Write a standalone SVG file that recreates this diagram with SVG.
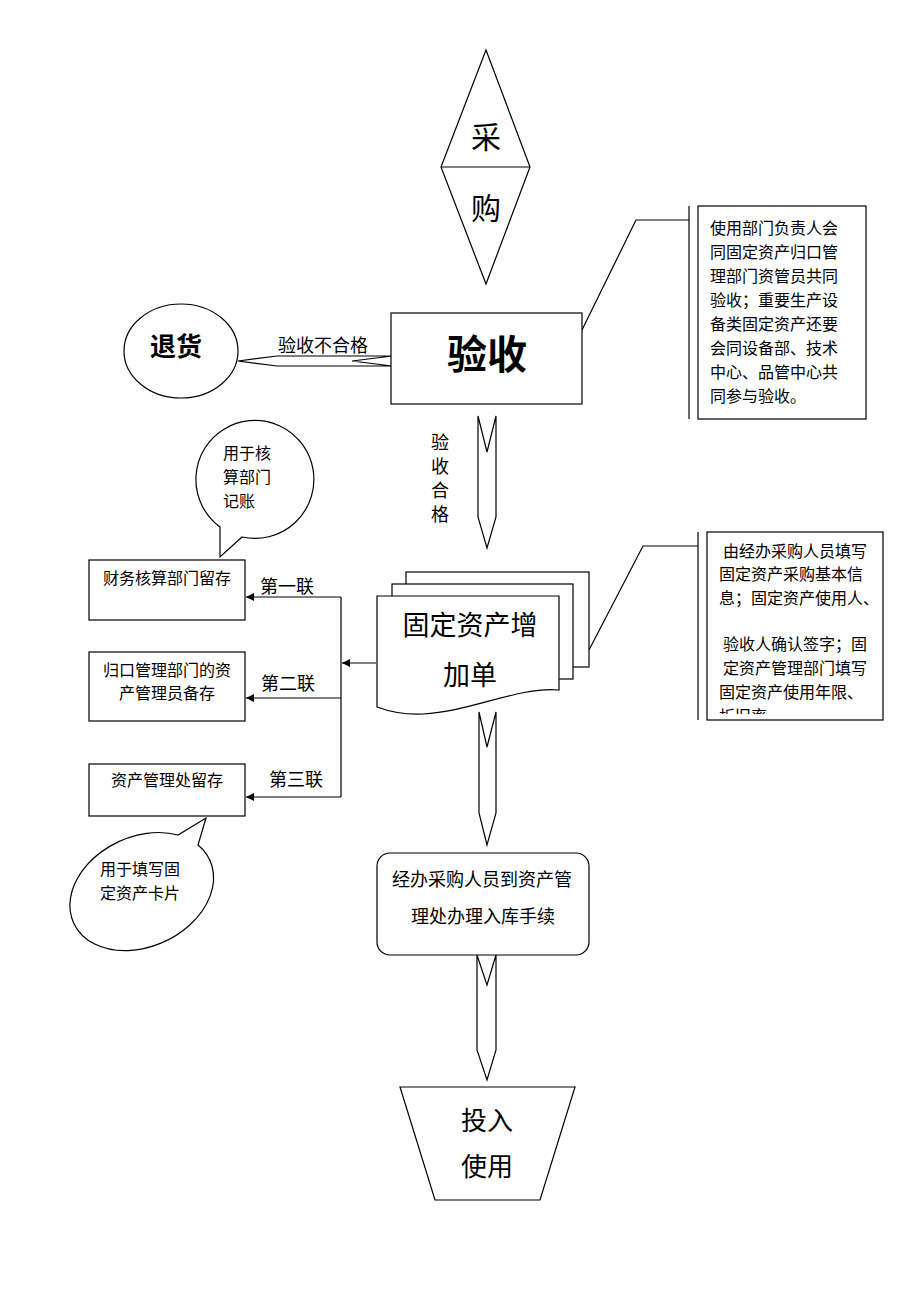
<svg xmlns="http://www.w3.org/2000/svg" width="920" height="1302" viewBox="0 0 920 1302">
<style>
.s{fill:#fff;stroke:#000;stroke-width:1.2}
.l{fill:none;stroke:#000;stroke-width:1.2}
text{font-family:"Noto Sans CJK SC","Noto Sans",sans-serif;fill:#000}
.c{text-anchor:middle}
.t16{font-size:16px}
.t18{font-size:18px}
</style>
<defs>
<marker id="ah" viewBox="0 0 10 10" refX="10" refY="5" markerWidth="10" markerHeight="8" markerUnits="userSpaceOnUse" orient="auto">
<path d="M0,0 L10,5 L0,10 Z" fill="#000"/>
</marker>
<clipPath id="cp2"><rect x="707" y="532" width="176" height="182"/></clipPath>
</defs>
<rect width="920" height="1302" fill="#fff"/>

<g id="connectors">
<polygon class="s" points="392,356 352,361 392,366 277,366 238,361 277,356"/>
<text class="c t18" x="323" y="352">验收不合格</text>
<polygon class="s" points="478,416 487,452 496,416 496,517 487,548 478,517"/>
<text class="c t18" x="440" y="449">验</text>
<text class="c t18" x="440" y="473">收</text>
<text class="c t18" x="440" y="497">合</text>
<text class="c t18" x="440" y="521">格</text>
<polygon class="s" points="479,712 487,747 496,712 496,813 487,845 479,813"/>
<polygon class="s" points="477,955 487,985 496,955 496,1050 487,1080 477,1050"/>
<polyline class="l" points="582,330 636,220 689,220"/>
<polyline class="l" points="589,650 643,546 698,546"/>
<line class="l" x1="376" y1="663" x2="342" y2="663" marker-end="url(#ah)"/>
<line class="l" x1="341" y1="597" x2="341" y2="797"/>
<line class="l" x1="341" y1="597" x2="246" y2="597" marker-end="url(#ah)"/>
<line class="l" x1="341" y1="698" x2="246" y2="698" marker-end="url(#ah)"/>
<line class="l" x1="341" y1="797" x2="246" y2="797" marker-end="url(#ah)"/>
<text class="c t18" x="287" y="593">第一联</text>
<text class="c t18" x="288" y="690">第二联</text>
<text class="c t18" x="296" y="786">第三联</text>
</g>

<g id="caigou">
<polygon class="s" points="486,50 530,167 486,284 441,167"/>
<line class="l" x1="441" y1="167" x2="530" y2="167"/>
<text class="c" x="486" y="148" font-size="30">采</text>
<text class="c" x="486" y="219" font-size="30">购</text>
</g>

<g id="yanshou">
<rect class="s" x="391" y="313" width="191" height="91"/>
<text class="c" x="487" y="369" font-size="40" font-weight="bold">验收</text>
</g>

<g id="tuihuo">
<ellipse class="s" cx="181" cy="351" rx="57" ry="47"/>
<text class="c" x="176" y="356" font-size="26" font-weight="bold">退货</text>
</g>

<g id="note1">
<line class="l" x1="689" y1="206" x2="689" y2="419"/>
<rect class="s" x="698" y="206" width="168" height="213"/>
<text class="t16" x="710" y="234">使用部门负责人会</text>
<text class="t16" x="710" y="258">同固定资产归口管</text>
<text class="t16" x="710" y="282">理部门资管员共同</text>
<text class="t16" x="710" y="306">验收；重要生产设</text>
<text class="t16" x="710" y="330">备类固定资产还要</text>
<text class="t16" x="710" y="354">会同设备部、技术</text>
<text class="t16" x="710" y="378">中心、品管中心共</text>
<text class="t16" x="710" y="402">同参与验收。</text>
</g>

<g id="bubble1">
<path class="s" d="M242,537 A59,59 0 1 0 220,527 L220,557 Z"/>
<text class="t16" x="223" y="459">用于核</text>
<text class="t16" x="223" y="483">算部门</text>
<text class="t16" x="223" y="507">记账</text>
</g>

<g id="box1">
<rect class="s" x="89" y="560" width="156" height="60"/>
<text class="c t16" x="167" y="584">财务核算部门留存</text>
</g>

<g id="box2">
<rect class="s" x="89" y="652" width="156" height="69"/>
<text class="c t16" x="167" y="676">归口管理部门的资</text>
<text class="c t16" x="167" y="699">产管理员备存</text>
</g>

<g id="box3">
<rect class="s" x="89" y="764" width="156" height="52"/>
<text class="c t16" x="167" y="786">资产管理处留存</text>
</g>

<g id="bubble2">
<path class="s" d="M198,845 A75,55 -25 1 1 178,835 L206,818 Z"/>
<text class="c t16" x="140" y="875">用于填写固</text>
<text class="c t16" x="140" y="899">定资产卡片</text>
</g>

<g id="document">
<rect class="s" x="406" y="572" width="183" height="95"/>
<rect class="s" x="392" y="584" width="181" height="95"/>
<path class="s" d="M377,596 H559 V690 C520,686 470,712 423,714 C400,715 385,710 377,707 Z"/>
<text class="c" x="470" y="635" font-size="27">固定资产增</text>
<text class="c" x="470" y="685" font-size="27">加单</text>
</g>

<g id="note2">
<line class="l" x1="698" y1="532" x2="698" y2="720"/>
<rect class="s" x="707" y="532" width="176" height="188"/>
<g clip-path="url(#cp2)">
<text class="t16" x="723" y="557">由经办采购人员填写</text>
<text class="t16" x="719" y="580">固定资产采购基本信</text>
<text class="t16" x="719" y="604">息；固定资产使用人、</text>
<text class="t16" x="723" y="650">验收人确认签字；固</text>
<text class="t16" x="723" y="674">定资产管理部门填写</text>
<text class="t16" x="719" y="698">固定资产使用年限、</text>
<text class="t16" x="719" y="722">折旧率</text>
</g>
</g>

<g id="ruku">
<rect class="s" x="377" y="853" width="212" height="102" rx="13"/>
<text class="c t18" x="482" y="886">经办采购人员到资产管</text>
<text class="c t18" x="483" y="923">理处办理入库手续</text>
</g>

<g id="shiyong">
<polygon class="s" points="400,1087 575,1087 540,1200 435,1200"/>
<text class="c" x="487" y="1130" font-size="26">投入</text>
<text class="c" x="487" y="1176" font-size="26">使用</text>
</g>
</svg>
